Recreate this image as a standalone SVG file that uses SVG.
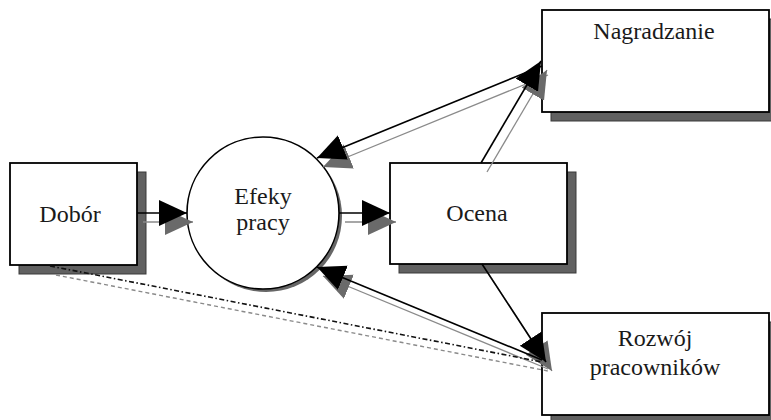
<svg xmlns="http://www.w3.org/2000/svg" width="771" height="420" viewBox="0 0 771 420">
<style>
.box{fill:#fff;stroke:#000;stroke-width:1.8}
.bsh{fill:#616161;stroke:#3a3a3a;stroke-width:1}
.lbl{font-family:"Liberation Serif","Times New Roman",serif;font-size:24px;fill:#1a1a1a;text-anchor:middle}
.ln{fill:none;stroke:#000;stroke-width:1.6}
.lns{fill:none;stroke:#8a8a8a;stroke-width:1.3}
.dot{fill:none;stroke:#111;stroke-width:1.6;stroke-dasharray:5 2.5 1.5 2.5}
.dots{fill:none;stroke:#8a8a8a;stroke-width:1.4;stroke-dasharray:4 3}
</style>
<defs>
<marker id="ah" markerUnits="userSpaceOnUse" markerWidth="30" markerHeight="28" refX="28" refY="13" orient="auto" viewBox="0 0 30 28">
<path d="M0,0 L28,13 L0,26 Z" fill="#000"/>
</marker>
<marker id="ahs" markerUnits="userSpaceOnUse" markerWidth="30" markerHeight="28" refX="28" refY="13" orient="auto" viewBox="0 0 30 28">
<path d="M0,0 L28,13 L0,26 Z" fill="#6a6a6a"/>
</marker>
</defs>
<rect width="771" height="420" fill="#fff"/>

<g id="dobor">
<rect class="bsh" x="19" y="172" width="127" height="102"/>
<rect class="box" x="10" y="163" width="127" height="102"/>
<text class="lbl" x="70" y="222">Dobór</text>
</g>

<g id="efekty">
<circle cx="266" cy="216" r="76" fill="#666"/>
<circle cx="263" cy="213" r="76" fill="#fff" stroke="#000" stroke-width="1.6"/>
<text class="lbl" x="263" y="204">Efeky</text>
<text class="lbl" x="263" y="230">pracy</text>
</g>

<g id="ocena">
<rect class="bsh" x="399" y="172" width="177" height="101"/>
<rect class="box" x="390" y="163" width="177" height="101"/>
<text class="lbl" x="477" y="221">Ocena</text>
</g>

<g id="nagradzanie">
<rect class="bsh" x="551" y="19" width="230" height="102"/>
<rect class="box" x="542" y="10" width="227" height="102"/>
<text class="lbl" x="654" y="39">Nagradzanie</text>
</g>

<g id="rozwoj">
<rect class="bsh" x="551" y="322" width="230" height="102"/>
<rect class="box" x="542" y="313" width="227" height="102"/>
<text class="lbl" x="655" y="346">Rozwój</text>
<text class="lbl" x="655" y="375">pracowników</text>
</g>

<g id="connectors">
<g transform="translate(6,9)">
<line class="dots" x1="50" y1="266" x2="542" y2="362"/>
<line class="lns" x1="137" y1="213" x2="187" y2="213" marker-end="url(#ahs)"/>
<line class="lns" x1="339" y1="213" x2="390" y2="213" marker-end="url(#ahs)"/>
<line class="lns" x1="542" y1="66" x2="317" y2="158" marker-end="url(#ahs)"/>
<line class="lns" x1="481" y1="163" x2="541" y2="61" marker-end="url(#ahs)"/>
<line class="lns" x1="482" y1="264" x2="546" y2="362" marker-end="url(#ahs)"/>
<line class="lns" x1="542" y1="360" x2="317" y2="267" marker-end="url(#ahs)"/>
</g>
<line class="dot" x1="50" y1="266" x2="542" y2="362"/>
<line class="ln" x1="137" y1="213" x2="187" y2="213" marker-end="url(#ah)"/>
<line class="ln" x1="339" y1="213" x2="390" y2="213" marker-end="url(#ah)"/>
<line class="ln" x1="542" y1="66" x2="317" y2="158" marker-end="url(#ah)"/>
<line class="ln" x1="481" y1="163" x2="541" y2="61" marker-end="url(#ah)"/>
<line class="ln" x1="482" y1="264" x2="546" y2="362" marker-end="url(#ah)"/>
<line class="ln" x1="542" y1="360" x2="317" y2="267" marker-end="url(#ah)"/>
</g>
</svg>
